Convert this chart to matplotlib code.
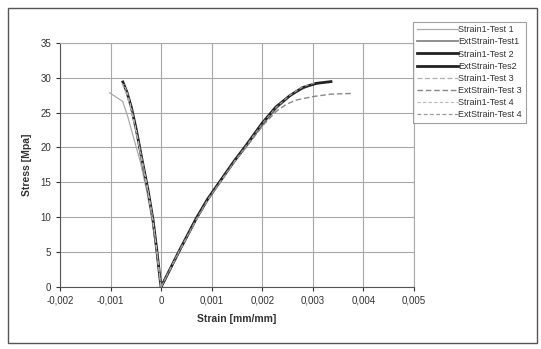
import matplotlib.pyplot as plt
from matplotlib.patches import Rectangle
from matplotlib.ticker import FuncFormatter

# Strain1 (lateral, negative) and ExtStrain (axial) for 4 tests
s1_t1_x = [0, -0.00002, -0.0001, -0.00018, -0.00029, -0.00042, -0.00053, -0.00066, -0.00076, -0.00102]
s1_t1_y = [0, 1, 5.3, 9.6, 13.9, 18.2, 21.0, 24.4, 26.6, 27.85]
ext_t1_x = [0, 0.00037, 0.00071, 0.00093, 0.00117, 0.00146, 0.00169, 0.00202, 0.00229, 0.0026, 0.00293, 0.0031]
ext_t1_y = [0, 5.2, 9.9, 12.6, 15.1, 18.1, 20.2, 23.4, 25.7, 27.7, 28.9, 29.2]

s1_t2_x = [0, -0.00002, -0.000086, -0.00016, -0.00026, -0.00039, -0.00049, -0.00059, -0.00068, -0.000757]
s1_t2_y = [0, 1, 5.3, 9.6, 13.9, 18.7, 22.5, 25.8, 28.0, 29.4]
ext_t2_x = [0, 0.00036, 0.0007, 0.00092, 0.00116, 0.00145, 0.00167, 0.002, 0.00227, 0.00254, 0.0028, 0.00307, 0.00336]
ext_t2_y = [0, 5.2, 9.9, 12.6, 15.1, 18.1, 20.2, 23.5, 25.8, 27.4, 28.6, 29.2, 29.45]

s1_t3_x = [0, -0.00002, -0.00009, -0.00017, -0.00027, -0.0004, -0.0005, -0.0006, -0.00069, -0.00077]
s1_t3_y = [0, 1, 5.3, 9.6, 13.9, 18.7, 22.4, 25.6, 27.8, 29.2]
ext_t3_x = [0, 0.00037, 0.00072, 0.00094, 0.00118, 0.00147, 0.0017, 0.00203, 0.00228, 0.00248, 0.00267, 0.003, 0.00336, 0.00376]
ext_t3_y = [0, 5.2, 9.9, 12.6, 15.1, 18.1, 20.2, 23.3, 25.2, 26.2, 26.8, 27.3, 27.65, 27.75]

s1_t4_x = [0, -0.00002, -0.000088, -0.00016, -0.00026, -0.00039, -0.00049, -0.00059, -0.00067, -0.00074]
s1_t4_y = [0, 1, 5.3, 9.6, 13.9, 18.7, 22.4, 25.7, 27.9, 29.1]
ext_t4_x = [0, 0.00036, 0.00071, 0.00093, 0.00117, 0.00146, 0.00168, 0.00201, 0.00228, 0.00255, 0.0028, 0.00305]
ext_t4_y = [0, 5.2, 9.9, 12.6, 15.1, 18.1, 20.2, 23.5, 25.8, 27.5, 28.7, 29.3]

labels = ['Strain1-Test 1', 'ExtStrain-Test1', 'Strain1-Test 2', 'ExtStrain-Tes2',
          'Strain1-Test 3', 'ExtStrain-Test 3', 'Strain1-Test 4', 'ExtStrain-Test 4']

plt.rcParams['font.family'] = ['Liberation Sans', 'DejaVu Sans']

fig = plt.figure(figsize=(5.41, 3.49), dpi=100)
ax = fig.add_axes([0.111, 0.178, 0.654, 0.699])

series = [
    (s1_t1_x, s1_t1_y, dict(color='#aaaaaa', lw=0.9, ls='-')),
    (ext_t1_x, ext_t1_y, dict(color='#888888', lw=1.3, ls='-')),
    (s1_t2_x, s1_t2_y, dict(color='#222222', lw=2.0, ls='-')),
    (ext_t2_x, ext_t2_y, dict(color='#222222', lw=2.0, ls='-')),
    (s1_t3_x, s1_t3_y, dict(color='#b0b0b0', lw=0.9, ls=(0, (4, 2)))),
    (ext_t3_x, ext_t3_y, dict(color='#888888', lw=1.0, ls=(0, (4, 2)))),
    (s1_t4_x, s1_t4_y, dict(color='#b8b8b8', lw=0.8, ls=(0, (3, 2)))),
    (ext_t4_x, ext_t4_y, dict(color='#999999', lw=0.9, ls=(0, (3, 2)))),
]
for (x, y, st), lab in zip(series, labels):
    ax.plot(x, y, label=lab, solid_joinstyle='round', **st)

ax.set_xlim(-0.002, 0.005)
ax.set_ylim(0, 35)
ax.set_xticks([-0.002, -0.001, 0, 0.001, 0.002, 0.003, 0.004, 0.005])
ax.set_yticks(range(0, 36, 5))
ax.xaxis.set_major_formatter(FuncFormatter(lambda v, p: '0' if abs(v) < 1e-9 else f'{v:.3f}'.replace('.', ',')))
ax.grid(True, color='#a8a8a8', lw=0.8)
ax.tick_params(labelsize=7, colors='#333333', length=3)
for sp in ax.spines.values():
    sp.set_color('#aaaaaa')
    sp.set_linewidth(0.8)
ax.spines['left'].set_color('#555555')
ax.spines['bottom'].set_color('#555555')

ax.set_xlabel('Strain [mm/mm]', fontsize=7.5, fontweight='bold', color='#333333', labelpad=6)
ax.set_ylabel('Stress [Mpa]', fontsize=7.5, fontweight='bold', color='#333333', labelpad=6)

leg = fig.legend(loc='upper right', bbox_to_anchor=(0.980, 0.951), fontsize=6.5,
                 handlelength=4.5, frameon=True, fancybox=False, borderpad=0.4,
                 labelspacing=0.35, handletextpad=0.1)
leg.get_frame().set_edgecolor('#888888')
leg.get_frame().set_linewidth(0.8)
for t in leg.get_texts():
    t.set_color('#333333')

fig.patches.append(Rectangle((0.015, 0.017), 0.977, 0.96, transform=fig.transFigure,
                             fill=False, edgecolor='#555555', lw=1.0))

fig.savefig('out.png', dpi=100)
